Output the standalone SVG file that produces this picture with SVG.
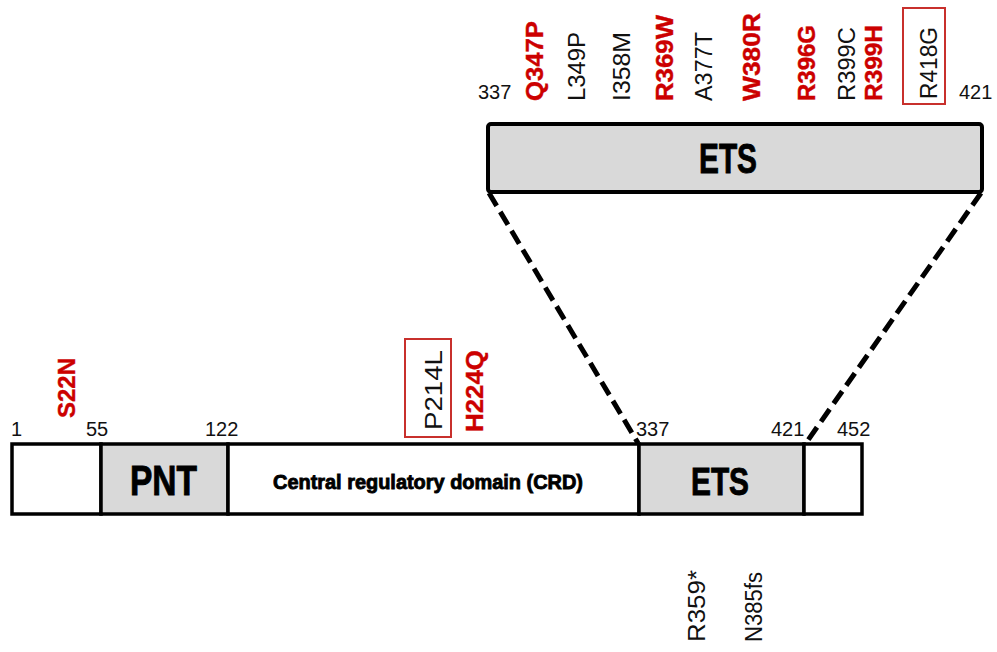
<svg xmlns="http://www.w3.org/2000/svg" width="997" height="652" viewBox="0 0 997 652">
  <style>
    .dom { stroke: #000; stroke-width: 3.5; }
    .grey { fill: #d9d9d9; }
    .white { fill: #fff; }
    .num { font-family: "Liberation Sans", Arial, sans-serif; font-size: 20px; fill: #111; }
    .big { font-family: "Liberation Sans", Arial, sans-serif; font-weight: bold; fill: #000; stroke: #000; stroke-width: 0.9; }
    .mut { font-family: "Liberation Sans", Arial, sans-serif; font-size: 23px; fill: #111; }
    .hot { font-family: "Liberation Sans", Arial, sans-serif; font-size: 24px; font-weight: bold; fill: #cc0000; stroke: #cc0000; stroke-width: 0.4; }
    .tag { fill: none; stroke: #c8302c; stroke-width: 2; }
    .zoom { stroke: #000; stroke-width: 5; stroke-dasharray: 15 7; fill: none; }
  </style>
  <rect width="997" height="652" fill="#fff"/>

  <!-- Full-length protein bar -->
  <g id="protein">
    <rect id="nterm" class="dom white" x="12" y="444" width="89" height="70"/>
    <g id="pnt">
      <rect class="dom grey" x="101" y="444" width="127" height="70"/>
      <text class="big" x="130" y="495" font-size="42" textLength="67" lengthAdjust="spacingAndGlyphs">PNT</text>
    </g>
    <g id="crd">
      <rect class="dom white" x="228" y="444" width="411" height="70"/>
      <text class="big" x="273" y="489" font-size="21" stroke-width="0.3" textLength="310" lengthAdjust="spacingAndGlyphs">Central regulatory domain (CRD)</text>
    </g>
    <g id="ets">
      <rect class="dom grey" x="639" y="444" width="165" height="70"/>
      <text class="big" x="691" y="495" font-size="39" textLength="58" lengthAdjust="spacingAndGlyphs">ETS</text>
    </g>
    <rect id="cterm" class="dom white" x="804" y="444" width="58" height="70"/>
  </g>

  <!-- Residue positions on the full bar -->
  <g id="positions">
    <text class="num" x="11" y="436">1</text>
    <text class="num" x="86" y="436">55</text>
    <text class="num" x="205" y="436">122</text>
    <text class="num" x="636" y="436">337</text>
    <text class="num" x="771" y="436">421</text>
    <text class="num" x="837" y="436">452</text>
  </g>

  <!-- Enlarged ETS domain -->
  <g id="ets-zoom">
    <rect class="grey" x="488" y="124" width="494" height="68" rx="3" stroke="#000" stroke-width="4"/>
    <text class="big" x="699" y="173" font-size="42" textLength="58" lengthAdjust="spacingAndGlyphs">ETS</text>
    <text class="num" x="478" y="99">337</text>
    <text class="num" x="959" y="99">421</text>
  </g>

  <!-- Dashed lines linking the domain to its enlargement -->
  <g id="connectors">
    <line class="zoom" x1="489" y1="193" x2="638" y2="443"/>
    <line class="zoom" x1="981" y1="193" x2="806" y2="443"/>
  </g>

  <!-- Variants within the ETS domain -->
  <g id="ets-variants">
    <text class="hot" transform="translate(543,101) rotate(-90)" textLength="80" lengthAdjust="spacingAndGlyphs">Q347P</text>
    <text class="mut" transform="translate(585,101) rotate(-90)" textLength="69" lengthAdjust="spacingAndGlyphs">L349P</text>
    <text class="mut" transform="translate(630,101) rotate(-90)" textLength="69" lengthAdjust="spacingAndGlyphs">I358M</text>
    <text class="hot" transform="translate(673,101) rotate(-90)" textLength="86" lengthAdjust="spacingAndGlyphs">R369W</text>
    <text class="mut" transform="translate(712,101) rotate(-90)" textLength="69" lengthAdjust="spacingAndGlyphs">A377T</text>
    <text class="hot" transform="translate(760,101) rotate(-90)" textLength="88" lengthAdjust="spacingAndGlyphs">W380R</text>
    <text class="hot" transform="translate(815,101) rotate(-90)" textLength="76" lengthAdjust="spacingAndGlyphs">R396G</text>
    <text class="mut" transform="translate(855,101) rotate(-90)" textLength="74" lengthAdjust="spacingAndGlyphs">R399C</text>
    <text class="hot" transform="translate(882,101) rotate(-90)" textLength="76" lengthAdjust="spacingAndGlyphs">R399H</text>
    <g id="r418g">
      <rect class="tag" x="903" y="8" width="42" height="96"/>
      <text class="mut" transform="translate(937,99) rotate(-90)" textLength="72" lengthAdjust="spacingAndGlyphs">R418G</text>
    </g>
  </g>

  <!-- Variants outside the ETS domain -->
  <g id="other-variants">
    <text class="hot" transform="translate(75,418) rotate(-90)" textLength="60" lengthAdjust="spacingAndGlyphs">S22N</text>
    <g id="p214l">
      <rect class="tag" x="405" y="339" width="46" height="98"/>
      <text class="mut" transform="translate(442,430) rotate(-90)" textLength="80" lengthAdjust="spacingAndGlyphs">P214L</text>
    </g>
    <text class="hot" transform="translate(483,432) rotate(-90)" textLength="82" lengthAdjust="spacingAndGlyphs">H224Q</text>
  </g>

  <!-- Truncating variants -->
  <g id="truncating">
    <text class="mut" transform="translate(705,642) rotate(-90)" textLength="72" lengthAdjust="spacingAndGlyphs">R359*</text>
    <text class="mut" transform="translate(762,642) rotate(-90)" textLength="70" lengthAdjust="spacingAndGlyphs">N385fs</text>
  </g>
</svg>
